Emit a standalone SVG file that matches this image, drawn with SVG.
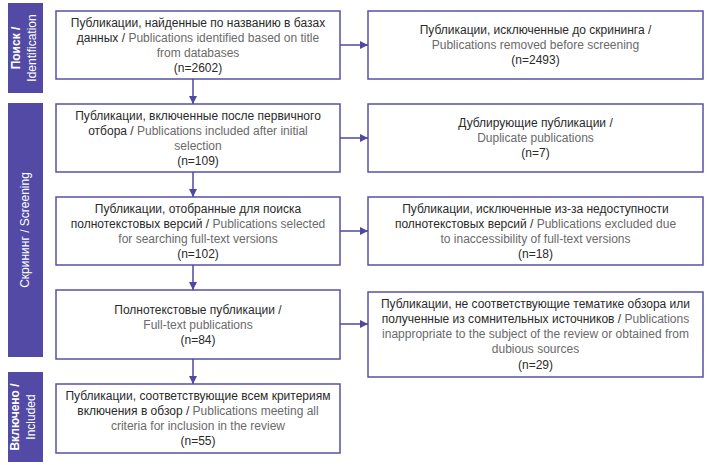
<svg xmlns="http://www.w3.org/2000/svg" width="709" height="465" viewBox="0 0 709 465">
<defs>
<marker id="ah" viewBox="0 0 10 10" refX="10" refY="5" markerWidth="8" markerHeight="8" markerUnits="userSpaceOnUse" orient="auto">
<path d="M0,0 L10,5 L0,10 z" fill="#4f48a3"/>
</marker>
</defs>
<style>
.band{fill:#524aa5}
.box{fill:#fff;stroke:#5750a8;stroke-width:1.5}
.conn{stroke:#4f48a3;stroke-width:1.5;fill:none;marker-end:url(#ah)}
text{font-family:"Liberation Sans",Arial,sans-serif;font-size:12px;text-anchor:middle;fill:#2a2a2a}
.en{fill:#6a6a6a}
.bt{fill:#fff;font-size:12px}
.b{font-weight:bold}
</style>
<rect width="709" height="465" fill="#fff"/>
<g id="band-identification">
<rect class="band" x="8" y="3" width="35" height="90"/>
<text class="bt" transform="translate(25.5,48) rotate(-90)"><tspan class="b" x="0" y="-5.5">Поиск /</tspan><tspan x="0" y="10.5">Identification</tspan></text>
</g>
<g id="band-screening">
<rect class="band" x="8" y="103" width="35" height="254"/>
<text class="bt" transform="translate(25.5,230) rotate(-90)"><tspan x="0" y="3.5">Скрининг / Screening</tspan></text>
</g>
<g id="band-included">
<rect class="band" x="8" y="372" width="35" height="90"/>
<text class="bt" transform="translate(25.5,417) rotate(-90)"><tspan class="b" x="0" y="-7">Включено /</tspan><tspan x="0" y="9.5">Included</tspan></text>
</g>
<g id="n1">
<rect class="box" x="56" y="11" width="284" height="68"/>
<text><tspan x="198" y="26.5">Публикации, найденные по названию в базах</tspan><tspan x="198" y="41.5">данных / <tspan class="en">Publications identified based on title</tspan></tspan><tspan class="en" x="198" y="56.5">from databases</tspan><tspan x="198" y="71.5">(n=2602)</tspan></text>
</g>
<g id="r1">
<rect class="box" x="368" y="11" width="335" height="68"/>
<text><tspan x="535.5" y="34">Публикации, исключенные до скрининга /</tspan><tspan class="en" x="535.5" y="49">Publications removed before screening</tspan><tspan x="535.5" y="64">(n=2493)</tspan></text>
</g>
<g id="n2">
<rect class="box" x="56" y="104" width="284" height="68"/>
<text><tspan x="198" y="119.5">Публикации, включенные после первичного</tspan><tspan x="198" y="134.5">отбора / <tspan class="en">Publications included after initial</tspan></tspan><tspan class="en" x="198" y="149.5">selection</tspan><tspan x="198" y="164.5">(n=109)</tspan></text>
</g>
<g id="r2">
<rect class="box" x="368" y="104" width="335" height="68"/>
<text><tspan x="535.5" y="127">Дублирующие публикации /</tspan><tspan class="en" x="535.5" y="142">Duplicate publications</tspan><tspan x="535.5" y="157">(n=7)</tspan></text>
</g>
<g id="n3">
<rect class="box" x="56" y="197" width="284" height="68"/>
<text><tspan x="198" y="212.5">Публикации, отобранные для поиска</tspan><tspan x="198" y="227.5">полнотекстовых версий / <tspan class="en">Publications selected</tspan></tspan><tspan class="en" x="198" y="242.5">for searching full-text versions</tspan><tspan x="198" y="257.5">(n=102)</tspan></text>
</g>
<g id="r3">
<rect class="box" x="368" y="197" width="335" height="68"/>
<text><tspan x="535.5" y="212.5">Публикации, исключенные из-за недоступности</tspan><tspan x="535.5" y="227.5">полнотекстовых версий / <tspan class="en">Publications excluded due</tspan></tspan><tspan class="en" x="535.5" y="242.5">to inaccessibility of full-text versions</tspan><tspan x="535.5" y="257.5">(n=18)</tspan></text>
</g>
<g id="n4">
<rect class="box" x="56" y="290" width="284" height="69"/>
<text><tspan x="198" y="313.5">Полнотекстовые публикации /</tspan><tspan class="en" x="198" y="328.5">Full-text publications</tspan><tspan x="198" y="343.5">(n=84)</tspan></text>
</g>
<g id="r4">
<rect class="box" x="368" y="292" width="335" height="85"/>
<text><tspan x="535.5" y="307.5">Публикации, не соответствующие тематике обзора или</tspan><tspan x="535.5" y="322.8">полученные из сомнительных источников / <tspan class="en">Publications</tspan></tspan><tspan class="en" x="535.5" y="338.1">inappropriate to the subject of the review or obtained from</tspan><tspan class="en" x="535.5" y="353.4">dubious sources</tspan><tspan x="535.5" y="368.7">(n=29)</tspan></text>
</g>
<g id="n5">
<rect class="box" x="56" y="384" width="284" height="69"/>
<text><tspan x="198" y="400">Публикации, соответствующие всем критериям</tspan><tspan x="198" y="415">включения в обзор / <tspan class="en">Publications meeting all</tspan></tspan><tspan class="en" x="198" y="430">criteria for inclusion in the review</tspan><tspan x="198" y="445">(n=55)</tspan></text>
</g>
<g id="connectors">
<line class="conn" x1="193" y1="79" x2="193" y2="104"/>
<line class="conn" x1="193" y1="172" x2="193" y2="197"/>
<line class="conn" x1="193" y1="265" x2="193" y2="290"/>
<line class="conn" x1="193" y1="359" x2="193" y2="384"/>
<line class="conn" x1="340" y1="45" x2="368" y2="45"/>
<line class="conn" x1="340" y1="138" x2="368" y2="138"/>
<line class="conn" x1="340" y1="231" x2="368" y2="231"/>
<line class="conn" x1="340" y1="324" x2="368" y2="324"/>
</g>
</svg>
